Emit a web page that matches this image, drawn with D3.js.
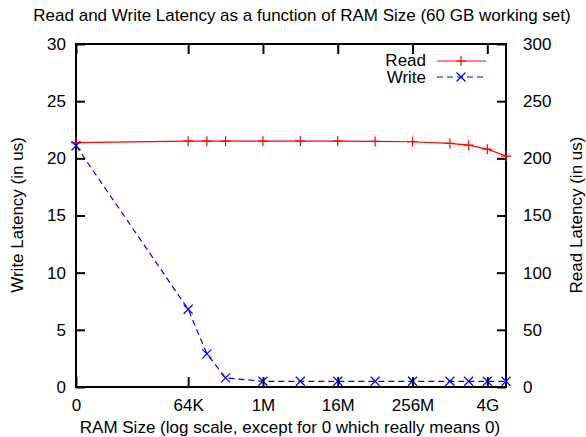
<!DOCTYPE html>
<html>
<head>
<meta charset="utf-8">
<script src="https://cdn.jsdelivr.net/npm/d3@7"></script>
<style>
  body { margin: 0; background: #fff; }
  text { font-family: "Liberation Sans", Arial, sans-serif; font-size: 17px; fill: #000; }
</style>
</head>
<body>
<script>
// Chart size
var w = 586;
var h = 437;

// RAM sizes in bytes (0 really means 0)
var ramSizes = [0, 65536, 131072, 262144, 1048576, 4194304, 16777216,
    67108864, 268435456, 1073741824, 2147483648, 4294967296, 8589934592];
// Read latency (right axis, us)
var readLatency = [213.8, 215, 215, 215, 215, 215, 215, 214.8, 214.5, 213, 211.5, 208, 202];
// Write latency (left axis, us)
var writeLatency = [21.1, 6.8, 2.9, 0.8, 0.5, 0.5, 0.5, 0.5, 0.5, 0.5, 0.5, 0.5, 0.5];

// Tick labels
var xTickValues = [0, 65536, 1048576, 16777216, 268435456, 4294967296];
var xTickLabels = ["0", "64K", "1M", "16M", "256M", "4G"];
var yLeftTicks = [0, 5, 10, 15, 20, 25, 30];
var yRightTicks = [0, 50, 100, 150, 200, 250, 300];

var margin = {left: 76, right: 80, top: 44, bottom: 50};
var x0 = margin.left, x1 = w - margin.right;
var y0 = h - margin.bottom, y1 = margin.top;

// log2 scale; 0 is drawn at the left edge (1K)
var xScale = d3.scaleLog().base(2)
    .domain([1024, 8589934592])
    .range([x0, x1]);
function xPos(v) { return xScale(v === 0 ? 1024 : v); }

var yWrite = d3.scaleLinear().domain([0, 30]).range([y0, y1]);
var yRead = d3.scaleLinear().domain([0, 300]).range([y0, y1]);

var svg = d3.select("body").append("svg")
    .attr("width", w)
    .attr("height", h);

// Border
svg.append("rect")
    .attr("x", x0).attr("y", y1)
    .attr("width", x1 - x0).attr("height", y0 - y1)
    .attr("fill", "none").attr("stroke", "#000").attr("stroke-width", 2);

// Read line
var readLine = d3.line()
    .x(function(d, i) { return xPos(ramSizes[i]); })
    .y(function(d) { return yRead(d); });
svg.append("path")
    .datum(readLatency)
    .attr("d", readLine)
    .attr("fill", "none").attr("stroke", "#ff0000").attr("stroke-width", 1.2);

svg.selectAll(".read-pt")
    .data(readLatency)
    .enter()
    .append("path")
    .attr("class", "read-pt")
    .attr("transform", function(d, i) {
        return "translate(" + xPos(ramSizes[i]) + "," + yRead(d) + ")";
    })
    .attr("d", "M-5,0H5M0,-5V5")
    .attr("stroke", "#ff0000").attr("stroke-width", 1.2);

// Write line
var writeLine = d3.line()
    .x(function(d, i) { return xPos(ramSizes[i]); })
    .y(function(d) { return yWrite(d); });
svg.append("path")
    .datum(writeLatency)
    .attr("d", writeLine)
    .attr("fill", "none").attr("stroke", "#0000ff").attr("stroke-width", 1.2)
    .attr("stroke-dasharray", "6,4");

svg.selectAll(".write-pt")
    .data(writeLatency)
    .enter()
    .append("path")
    .attr("class", "write-pt")
    .attr("transform", function(d, i) {
        return "translate(" + xPos(ramSizes[i]) + "," + yWrite(d) + ")";
    })
    .attr("d", "M-4.5,-4.5L4.5,4.5M-4.5,4.5L4.5,-4.5")
    .attr("stroke", "#0000ff").attr("stroke-width", 1.2);

// Axes (ticks point inward)
var xAxis = d3.axisBottom(xScale)
    .tickValues(xTickValues.map(function(v) { return v === 0 ? 1024 : v; }))
    .tickFormat(function(d, i) { return xTickLabels[i]; })
    .tickSize(-10).tickPadding(12);
var gx = svg.append("g")
    .attr("transform", "translate(0," + y0 + ")")
    .call(xAxis);

var xTop = d3.axisTop(xScale)
    .tickValues(xTickValues.map(function(v) { return v === 0 ? 1024 : v; }))
    .tickFormat("")
    .tickSize(-10);
var gxt = svg.append("g")
    .attr("transform", "translate(0," + y1 + ")")
    .call(xTop);

var yAxisL = d3.axisLeft(yWrite)
    .tickValues(yLeftTicks)
    .tickSize(-9).tickPadding(10);
var gl = svg.append("g")
    .attr("transform", "translate(" + x0 + ",0)")
    .call(yAxisL);

var yAxisR = d3.axisRight(yRead)
    .tickValues(yRightTicks)
    .tickSize(-9).tickPadding(17);
var gr = svg.append("g")
    .attr("transform", "translate(" + x1 + ",0)")
    .call(yAxisR);

[gx, gxt, gl, gr].forEach(function(g) {
    g.select(".domain").remove();
    g.selectAll(".tick line").attr("stroke", "#000").attr("stroke-width", 2);
    g.selectAll(".tick text")
        .attr("font-family", "Liberation Sans, Arial, sans-serif")
        .attr("font-size", "16px")
        .attr("fill", "#000");
});

// Titles
svg.append("text")
    .attr("x", 302).attr("y", 21)
    .attr("text-anchor", "middle")
    .text("Read and Write Latency as a function of RAM Size (60 GB working set)");

svg.append("text")
    .attr("x", 290).attr("y", 427)
    .attr("dy", "0.35em")
    .attr("text-anchor", "middle")
    .text("RAM Size (log scale, except for 0 which really means 0)");

svg.append("text")
    .attr("transform", "translate(17,215) rotate(-90)")
    .attr("dy", "0.35em")
    .attr("text-anchor", "middle")
    .text("Write Latency (in us)");

svg.append("text")
    .attr("transform", "translate(576,215) rotate(-90)")
    .attr("dy", "0.35em")
    .attr("text-anchor", "middle")
    .text("Read Latency (in us)");

// Legend
var legend = svg.append("g");
legend.append("text").attr("x", 426).attr("y", 60.5).attr("dy", "0.35em")
    .attr("text-anchor", "end").text("Read");
legend.append("line").attr("x1", 437).attr("x2", 486).attr("y1", 61).attr("y2", 61)
    .attr("stroke", "#ff0000").attr("stroke-width", 1.2);
legend.append("path").attr("transform", "translate(461,61)")
    .attr("d", "M-5,0H5M0,-5V5")
    .attr("stroke", "#ff0000").attr("stroke-width", 1.2);

legend.append("text").attr("x", 426).attr("y", 77.5).attr("dy", "0.35em")
    .attr("text-anchor", "end").text("Write");
legend.append("line").attr("x1", 437).attr("x2", 486).attr("y1", 77).attr("y2", 77)
    .attr("stroke", "#0000ff").attr("stroke-width", 1.2)
    .attr("stroke-dasharray", "6,4");
legend.append("path").attr("transform", "translate(461,77)")
    .attr("d", "M-4.5,-4.5L4.5,4.5M-4.5,4.5L4.5,-4.5")
    .attr("stroke", "#0000ff").attr("stroke-width", 1.2);
</script>
</body>
</html>
